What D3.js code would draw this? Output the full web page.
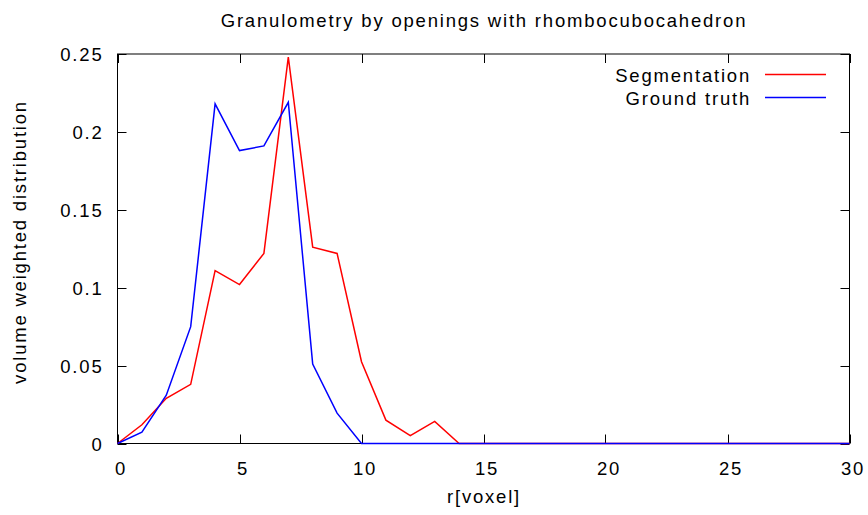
<!DOCTYPE html>
<html>
<head>
<meta charset="utf-8">
<script src="https://cdn.jsdelivr.net/npm/d3@7"></script>
<style>
  body { margin: 0; background: #fff; }
  svg text { font-family: "Liberation Sans", Arial, sans-serif; fill: #000; }
</style>
</head>
<body>
<svg id="chart" width="868" height="515"></svg>
<script>
// Granulometry curves: radius (voxels) vs volume weighted distribution
const radius = d3.range(0, 31);
const segmentation = [0, 0.012, 0.029, 0.038, 0.111, 0.102, 0.122, 0.248, 0.126, 0.122, 0.0525, 0.015, 0.005, 0.0142, 0,
  0, 0, 0, 0, 0, 0, 0, 0, 0, 0, 0, 0, 0, 0, 0, 0];
const groundTruth = [0, 0.0072, 0.031, 0.075, 0.218, 0.188, 0.191, 0.219, 0.051, 0.0195, 0, 0,
  0, 0, 0, 0, 0, 0, 0, 0, 0, 0, 0, 0, 0, 0, 0, 0, 0, 0, 0];
const xTicks = [0, 5, 10, 15, 20, 25, 30];
const yTicks = [0, 0.05, 0.1, 0.15, 0.2, 0.25];
const yTickLabels = ["0", "0.05", "0.1", "0.15", "0.2", "0.25"];
const seriesNames = ["Segmentation", "Ground truth"];
const seriesColors = ["#ff0000", "#0000ff"];

const svg = d3.select("#chart");
const plotLeft = 117.5, plotRight = 849.5, plotTop = 54, plotBottom = 443.5;
const x = d3.scaleLinear().domain([0, 30]).range([plotLeft, plotRight]);
const y = d3.scaleLinear().domain([0, 0.25]).range([plotBottom, plotTop]);
const tickLen = 9;
const fontSize = "18.5px";
const spacing = "1.8px";

// tick marks, mirrored on all four sides, pointing inward
const ticks = svg.append("g").attr("stroke", "#000").attr("stroke-width", 1);
xTicks.forEach(t => {
  const px = Math.round(x(t)) + 0.5;
  ticks.append("line").attr("x1", px).attr("x2", px).attr("y1", plotBottom).attr("y2", plotBottom - tickLen);
  ticks.append("line").attr("x1", px).attr("x2", px).attr("y1", plotTop).attr("y2", plotTop + tickLen);
});
yTicks.forEach(t => {
  const py = Math.round(y(t)) + 0.5;
  ticks.append("line").attr("x1", plotLeft).attr("x2", plotLeft + tickLen).attr("y1", py).attr("y2", py);
  ticks.append("line").attr("x1", plotRight).attr("x2", plotRight - tickLen).attr("y1", py).attr("y2", py);
});

// tick labels
svg.append("g").selectAll("text").data(xTicks).join("text")
  .attr("x", d => x(d) + 3.5).attr("y", 475)
  .attr("text-anchor", "middle")
  .style("font-size", fontSize).style("letter-spacing", spacing)
  .text(d => d);
svg.append("g").selectAll("text").data(yTicks).join("text")
  .attr("x", 103.5).attr("y", d => y(d) + 7)
  .attr("text-anchor", "end")
  .style("font-size", fontSize).style("letter-spacing", spacing)
  .text((d, i) => yTickLabels[i]);

// frame
svg.append("rect")
  .attr("x", plotLeft).attr("y", plotTop)
  .attr("width", plotRight - plotLeft).attr("height", plotBottom - plotTop)
  .attr("fill", "none").attr("stroke", "#000").attr("stroke-width", 1);

// series lines
const line = d3.line().x((d, i) => x(radius[i])).y(d => y(d));
[segmentation, groundTruth].forEach((s, k) => {
  svg.append("path").datum(s)
    .attr("d", line)
    .attr("fill", "none")
    .attr("stroke", seriesColors[k])
    .attr("stroke-width", 1.5)
    .attr("stroke-linejoin", "miter");
});

// legend
seriesNames.forEach((name, k) => {
  const ly = 74.5 + k * 23;
  svg.append("text")
    .attr("x", 751).attr("y", ly + 7.3)
    .attr("text-anchor", "end")
    .style("font-size", fontSize).style("letter-spacing", spacing)
    .text(name);
  svg.append("line")
    .attr("x1", 765).attr("x2", 826).attr("y1", ly).attr("y2", ly)
    .attr("stroke", seriesColors[k]).attr("stroke-width", 1.5);
});

// title and axis labels
svg.append("text").attr("x", 484).attr("y", 26.5)
  .attr("text-anchor", "middle")
  .style("font-size", fontSize).style("letter-spacing", spacing)
  .text("Granulometry by openings with rhombocubocahedron");
svg.append("text").attr("x", 484).attr("y", 503)
  .attr("text-anchor", "middle")
  .style("font-size", fontSize).style("letter-spacing", spacing)
  .text("r[voxel]");
svg.append("text")
  .attr("transform", "translate(26,242) rotate(-90)")
  .attr("text-anchor", "middle")
  .style("font-size", fontSize).style("letter-spacing", spacing)
  .text("volume weighted distribution");
</script>
</body>
</html>
